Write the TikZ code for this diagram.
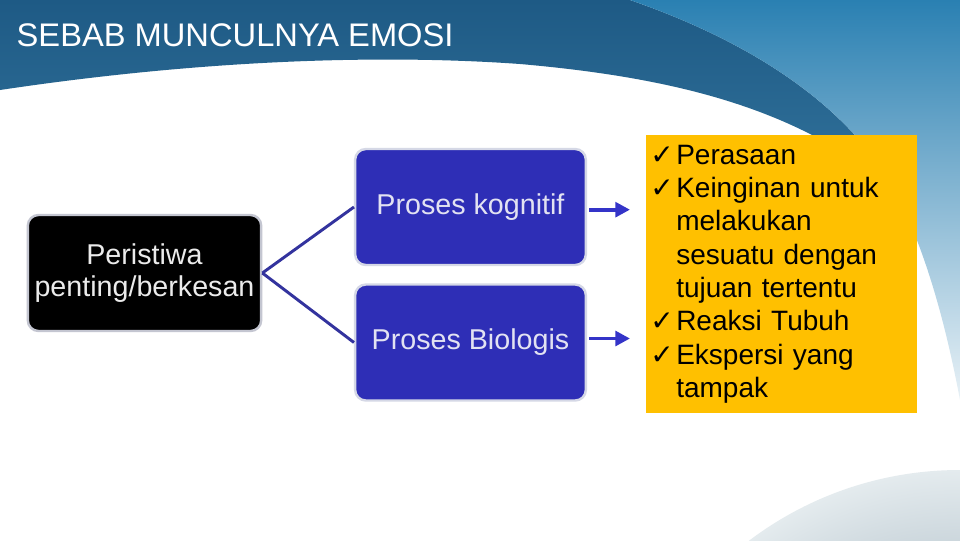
\documentclass[tikz,border=0pt]{standalone}
\usepackage{fontspec}
\setmainfont{Liberation Sans}
\newfontfamily\tickfont{DejaVu Sans}
\usepackage{xcolor}
\definecolor{hdrdark}{HTML}{1E5A85}
\definecolor{hdrmid}{HTML}{31729B}
\definecolor{hdrlight}{HTML}{2A80B2}
\definecolor{hdrfade}{HTML}{E8F1F6}
\definecolor{procblue}{HTML}{2E2EB6}
\definecolor{proctext}{HTML}{E2E2F2}
\definecolor{boxedge}{HTML}{D5D8E6}
\definecolor{linkblue}{HTML}{33339E}
\definecolor{arrowblue}{HTML}{3434C8}
\definecolor{listyellow}{HTML}{FFC000}
\definecolor{globein}{HTML}{70899A}
\definecolor{globeout}{HTML}{E4EBEE}
\usepackage{tikz}
\usetikzlibrary{arrows.meta, positioning, calc}

\newcommand\tickmark{\makebox[19.5pt][l]{\tickfont ✓}}
\newcommand\tickgap{\makebox[19.5pt]{}}

\begin{document}
\begin{tikzpicture}[
  x=0.75pt, y=-0.75pt,
  proc/.style={fill=procblue, draw=boxedge, line width=1.8pt, rounded corners=8pt,
    minimum width=173pt, minimum height=87pt,
    font=\fontsize{21.5}{24}\selectfont, text=proctext},
  event/.style={proc, fill=black, draw=boxedge!80!gray, minimum width=175pt,
    text=black!8, align=center},
  result/.style={fill=listyellow, minimum width=203pt, minimum height=208.5pt,
    inner xsep=3pt, text width=197pt, align=left,
    font=\fontsize{21}{25}\selectfont, text=black},
  link/.style={draw=linkblue, line width=2.2pt},
  flow/.style={draw=arrowblue, line width=2.8pt,
    -{Triangle[length=11pt, width=11pt]}, shorten <=1.5pt, shorten >=12pt}
]
  \useasboundingbox (0,0) rectangle (960,540);
  \fill[white] (0,0) rectangle (960,540);

  % header band
  \shade[top color=hdrdark, bottom color=hdrmid]
    (0,0) -- (630,0) .. controls (760,45) and (850,110) .. (895,190)
    .. controls (800,110) and (680,78) .. (520,64)
    .. controls (380,54) and (200,60) .. (0,90) -- cycle;
  \shade[top color=hdrlight, bottom color=hdrfade]
    (630,0) .. controls (760,45) and (850,110) .. (895,190)
    .. controls (925,250) and (945,320) .. (960,400) -- (960,0) -- cycle;

  % globe
  \shade[inner color=globein, outer color=globeout] (960,820) circle (350);

  \node[anchor=west, text=white, font=\fontsize{24.5}{28}\selectfont] (ttl) at (12,35)
    {SEBAB MUNCULNYA EMOSI};

  \node[event] (peris) at (144.5,273) {Peristiwa\\penting/berkesan};
  \node[proc] (kog) at (470.5,207) {Proses kognitif};
  \node[proc] (bio) at (470.5,342.5) {Proses Biologis};

  \node[result, anchor=north west] (hasil) at (646,135)
    {\tickmark Perasaan\\
     \tickmark Keinginan untuk\\
     \tickgap melakukan\\
     \tickgap sesuatu dengan\\
     \tickgap tujuan tertentu\\
     \tickmark Reaksi Tubuh\\
     \tickmark Ekspersi yang\\
     \tickgap tampak};

  \draw[link] (peris.east) -- (kog.west);
  \draw[link] (peris.east) -- (bio.west);

  \draw[flow] ([yshift=-2pt]kog.east) -- ([yshift=-2pt]kog.east -| hasil.west);
  \draw[flow] ([yshift=3pt]bio.east) -- ([yshift=3pt]bio.east -| hasil.west);
\end{tikzpicture}
\end{document}
